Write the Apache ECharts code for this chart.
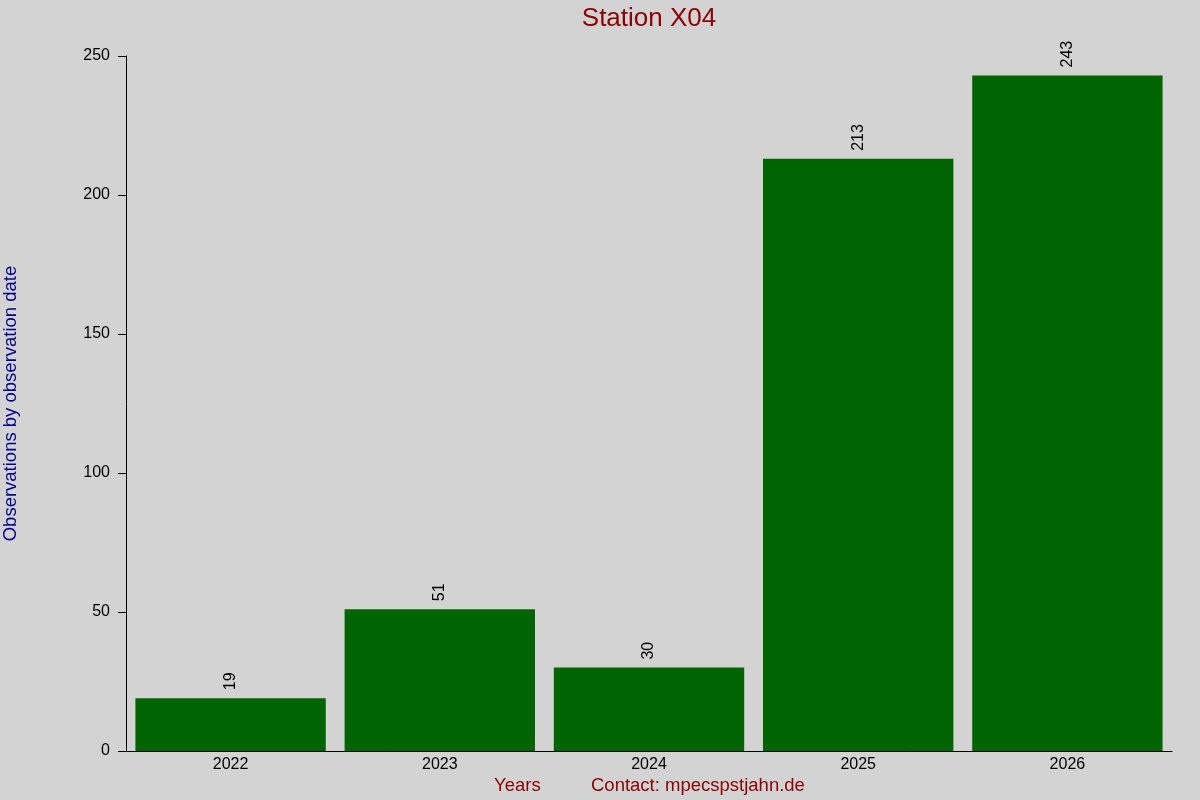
<!DOCTYPE html>
<html><head><meta charset="utf-8">
<script src="https://cdn.jsdelivr.net/npm/echarts@6/dist/echarts.min.js"></script>
<style>html,body{margin:0;padding:0;background:#d3d3d3}#c{width:1200px;height:800px}</style>
</head><body><div id="c"></div>
<script>
const categories = ['2022','2023','2024','2025','2026'];
const values = [19, 51, 30, 213, 243];
const yTicks = [0, 50, 100, 150, 200, 250];

const chart = echarts.init(document.getElementById('c'));
const FONT = 'Liberation Sans';
chart.setOption({
  backgroundColor: '#d3d3d3',
  animation: false,
  textStyle: { fontFamily: FONT },
  grid: { left: 126, right: 28, top: 56, bottom: 49, containLabel: false, outerBoundsMode: 'none' },
  xAxis: {
    type: 'category', data: categories,
    axisLine: { lineStyle: { color: '#000', width: 1 } },
    axisTick: { show: false },
    axisLabel: { color: '#000', fontSize: 16, margin: 6, fontFamily: FONT },
    splitLine: { show: false }
  },
  yAxis: {
    type: 'value', min: yTicks[0], max: yTicks[yTicks.length - 1], interval: 50,
    name: 'Observations by observation date', nameLocation: 'middle', nameGap: 106,
    nameTextStyle: { color: '#00008b', fontSize: 18.5, fontFamily: FONT },
    axisLine: { show: true, lineStyle: { color: '#000', width: 1 } },
    axisTick: { show: true, length: 8, lineStyle: { color: '#000' } },
    axisLabel: { color: '#000', fontSize: 16, margin: 16, fontFamily: FONT },
    splitLine: { show: false }
  },
  graphic: [
    { type: 'text', x: 649, y: 6, style: { text: 'Station X04', fill: '#8b0000', font: '26px "Liberation Sans"', textAlign: 'center' } },
    { type: 'text', x: 494, y: 776, style: { text: 'Years', fill: '#8b0000', font: '18.5px "Liberation Sans"' } },
    { type: 'text', x: 591, y: 776, style: { text: 'Contact: mpecspstjahn.de', fill: '#8b0000', font: '18.5px "Liberation Sans"' } }
  ],
  series: [{
    type: 'bar', data: values, barCategoryGap: '9%',
    itemStyle: { color: '#006400' },
    label: {
      show: true, position: 'top', rotate: 90, align: 'left', verticalAlign: 'middle',
      distance: 8, color: '#000', fontSize: 16, fontFamily: FONT
    }
  }]
});
</script></body></html>
